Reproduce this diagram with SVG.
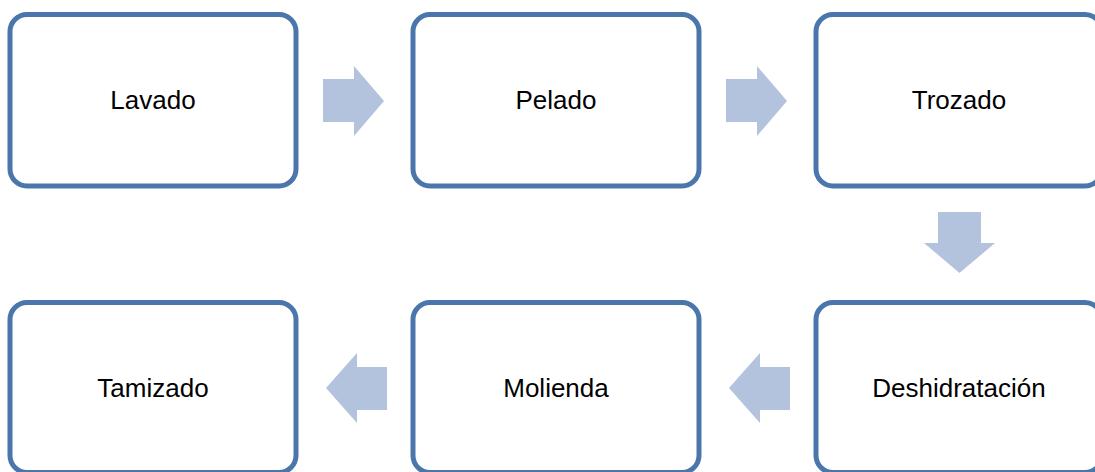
<svg xmlns="http://www.w3.org/2000/svg" width="1095" height="472" viewBox="0 0 1095 472">
<style>
.box{fill:#ffffff;stroke:#4a76ac;stroke-width:5}
.lbl{font-family:"Liberation Sans",Arial,sans-serif;font-size:26px;fill:#000;text-anchor:middle}
.arr{fill:#b3c3de;stroke:none}
</style>
<rect width="1095" height="472" fill="#ffffff"/>
<g id="n1"><rect class="box" x="10" y="14.5" width="286" height="171.5" rx="17"/><text class="lbl" x="153" y="109.3">Lavado</text></g>
<g id="n2"><rect class="box" x="413" y="14.5" width="286" height="171.5" rx="17"/><text class="lbl" x="556" y="109.3">Pelado</text></g>
<g id="n3"><rect class="box" x="816" y="14.5" width="286" height="171.5" rx="17"/><text class="lbl" x="959" y="109.3">Trozado</text></g>
<g id="n4"><rect class="box" x="816" y="302.5" width="286" height="170" rx="17"/><text class="lbl" x="959" y="396.8">Deshidratación</text></g>
<g id="n5"><rect class="box" x="413" y="302.5" width="286" height="170" rx="17"/><text class="lbl" x="556" y="396.8">Molienda</text></g>
<g id="n6"><rect class="box" x="10" y="302.5" width="286" height="170" rx="17"/><text class="lbl" x="153" y="396.8">Tamizado</text></g>
<g id="connectors">
<polygon class="arr" points="323,79 354,79 354,66 384,101 354,136 354,122 323,122"/>
<polygon class="arr" points="726,79 757,79 757,66 787,101 757,136 757,122 726,122"/>
<polygon class="arr" points="938,212 981,212 981,243 995,243 959.5,273 924,243 938,243"/>
<polygon class="arr" points="790,367 760,367 760,353 729,388 760,423 760,410 790,410"/>
<polygon class="arr" points="387,367 357,367 357,353 326,388 357,423 357,410 387,410"/>
</g>
</svg>
